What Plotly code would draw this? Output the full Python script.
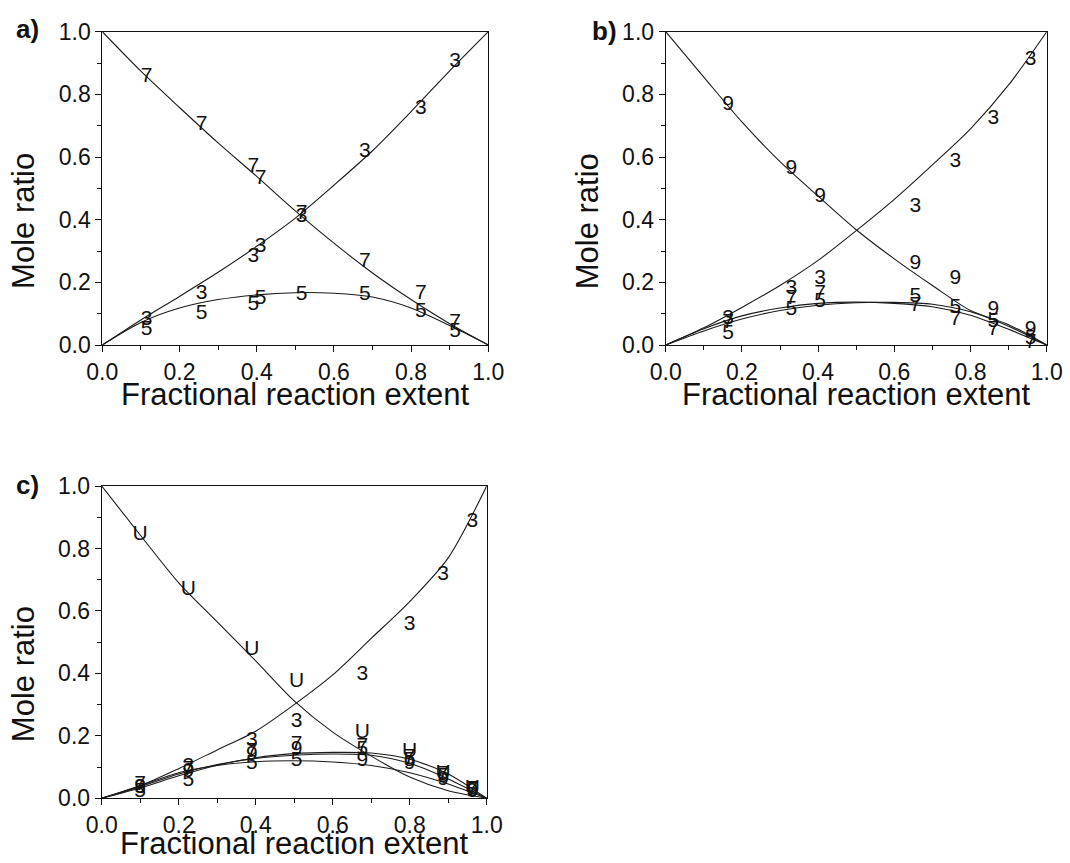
import plotly.graph_objects as go

FONT = "Arial, 'Liberation Sans', sans-serif"

# ---------------- data ----------------
grid_x = [0.0, 0.1, 0.2, 0.3, 0.4, 0.5, 0.6, 0.7, 0.8, 0.9, 1.0]

# panel a curves
a_curve_3 = [0.0, 0.08, 0.155, 0.232, 0.315, 0.405, 0.51, 0.62, 0.745, 0.875, 1.0]
a_curve_5 = [0.0, 0.072, 0.118, 0.145, 0.16, 0.167, 0.165, 0.153, 0.118, 0.062, 0.0]
a_curve_7 = [1.0, 0.874, 0.758, 0.645, 0.538, 0.428, 0.325, 0.23, 0.145, 0.068, 0.0]
# panel a points
a_pts_x = [0.115, 0.257, 0.391, 0.41, 0.516, 0.68, 0.825, 0.914]
a_pts_7 = [0.856, 0.702, 0.569, 0.532, 0.42, 0.266, 0.165, 0.072]
a_pts_3 = [0.08, 0.165, 0.282, 0.314, 0.41, 0.617, 0.755, 0.905]
a_pts_5 = [0.05, 0.10, 0.13, 0.149, 0.16, 0.16, 0.105, 0.042]

# panel b curves
b_curve_3 = [0.0, 0.055, 0.12, 0.19, 0.27, 0.365, 0.465, 0.575, 0.69, 0.83, 1.0]
b_curve_5 = [0.0, 0.045, 0.083, 0.11, 0.127, 0.135, 0.136, 0.13, 0.106, 0.06, 0.0]
b_curve_7 = [0.0, 0.052, 0.093, 0.118, 0.133, 0.137, 0.133, 0.122, 0.095, 0.05, 0.0]
b_curve_9 = [1.0, 0.855, 0.712, 0.585, 0.475, 0.368, 0.275, 0.19, 0.11, 0.065, 0.0]
# panel b points
b_pts_x = [0.164, 0.33, 0.405, 0.655, 0.76, 0.86, 0.958]
b_pts_9 = [0.766, 0.561, 0.473, 0.26, 0.21, 0.112, 0.048]
b_pts_3 = [0.085, 0.181, 0.21, 0.441, 0.585, 0.723, 0.912]
b_pts_7 = [0.07, 0.147, 0.163, 0.125, 0.082, 0.05, 0.008]
b_pts_5 = [0.037, 0.112, 0.138, 0.155, 0.12, 0.075, 0.02]

# panel c curves
c_curve_3 = [0.0, 0.04, 0.095, 0.155, 0.215, 0.3, 0.395, 0.512, 0.63, 0.77, 1.0]
c_curve_5 = [0.0, 0.033, 0.072, 0.106, 0.13, 0.143, 0.147, 0.145, 0.125, 0.078, 0.0]
c_curve_7 = [0.0, 0.037, 0.078, 0.108, 0.128, 0.138, 0.142, 0.138, 0.112, 0.062, 0.0]
c_curve_9 = [0.0, 0.04, 0.082, 0.105, 0.117, 0.12, 0.116, 0.105, 0.082, 0.046, 0.0]
c_curve_U = [1.0, 0.843, 0.69, 0.565, 0.44, 0.312, 0.212, 0.135, 0.068, 0.024, 0.0]
# panel c points
c_pts_x = [0.1, 0.225, 0.39, 0.506, 0.677, 0.80, 0.887, 0.963]
c_pts_U = [0.843, 0.667, 0.475, 0.373, 0.21, 0.15, 0.08, 0.03]
c_pts_3 = [0.035, 0.10, 0.185, 0.245, 0.395, 0.555, 0.715, 0.886]
c_pts_7 = [0.045, 0.09, 0.15, 0.17, 0.165, 0.13, 0.075, 0.028]
c_pts_9 = [0.035, 0.085, 0.14, 0.155, 0.12, 0.11, 0.06, 0.02]
c_pts_5 = [0.02, 0.055, 0.11, 0.12, 0.155, 0.12, 0.068, 0.025]

panel_labels = ["a)", "b)", "c)"]
x_title = "Fractional reaction extent"
y_title = "Mole ratio"
tick_vals = [0.0, 0.2, 0.4, 0.6, 0.8, 1.0]

# ---------------- figure ----------------
W, H = 1070, 863
fig = go.Figure()

panels = [
    ("x", "y", [(a_curve_3, "3"), (a_curve_5, "5"), (a_curve_7, "7")],
     a_pts_x, [(a_pts_7, "7"), (a_pts_3, "3"), (a_pts_5, "5")]),
    ("x2", "y2", [(b_curve_3, "3"), (b_curve_5, "5"), (b_curve_7, "7"), (b_curve_9, "9")],
     b_pts_x, [(b_pts_9, "9"), (b_pts_3, "3"), (b_pts_7, "7"), (b_pts_5, "5")]),
    ("x3", "y3", [(c_curve_3, "3"), (c_curve_5, "5"), (c_curve_7, "7"), (c_curve_9, "9"), (c_curve_U, "U")],
     c_pts_x, [(c_pts_U, "U"), (c_pts_3, "3"), (c_pts_7, "7"), (c_pts_9, "9"), (c_pts_5, "5")]),
]

for xa, ya, curves, px, pts in panels:
    for yv, name in curves:
        fig.add_trace(go.Scatter(
            x=grid_x, y=yv, mode="lines", name=name, xaxis=xa, yaxis=ya,
            line=dict(color="#1a1a1a", width=1.1, shape="spline", smoothing=0.8),
            showlegend=False, hoverinfo="skip"))
    for yv, name in pts:
        fig.add_trace(go.Scatter(
            x=px, y=yv, mode="text", text=[name] * len(px), name=name,
            xaxis=xa, yaxis=ya, textposition="middle center",
            textfont=dict(family=FONT, size=21, color="#111111"),
            showlegend=False, cliponaxis=False))

def px_dom_x(a, b):
    return [a / W, b / W]

def px_dom_y(top, bottom):
    return [1 - bottom / H, 1 - top / H]

domains = {
    "a": (px_dom_x(102.3, 488.3), px_dom_y(31.7, 345.0)),
    "b": (px_dom_x(665.7, 1046.7), px_dom_y(31.7, 345.0)),
    "c": (px_dom_x(101.7, 486.7), px_dom_y(486.0, 798.3)),
}

def axis_common():
    return dict(
        range=[0, 1], tickvals=tick_vals, tickformat=".1f",
        showline=True, linecolor="#111111", linewidth=1, mirror=True,
        ticks="outside", ticklen=6, tickwidth=1, tickcolor="#111111",
        minor=dict(ticks="outside", ticklen=4, tickwidth=1, tickcolor="#111111",
                   tickvals=[0.1, 0.3, 0.5, 0.7, 0.9]),
        showgrid=False, zeroline=False, automargin=False,
        tickfont=dict(family=FONT, size=23, color="#111111"),
        fixedrange=True,
    )

layout = dict(
    width=W, height=H, autosize=False,
    margin=dict(l=0, r=0, t=0, b=0, pad=0),
    paper_bgcolor="white", plot_bgcolor="white",
    showlegend=False,
)
for key, (xs, ys), xa, ya in [("a", domains["a"], "xaxis", "yaxis"),
                              ("b", domains["b"], "xaxis2", "yaxis2"),
                              ("c", domains["c"], "xaxis3", "yaxis3")]:
    ax = axis_common(); ax["domain"] = xs
    ay = axis_common(); ay["domain"] = ys
    suffix = xa[5:]
    ax["anchor"] = "y" + suffix
    ay["anchor"] = "x" + suffix
    layout[xa] = ax
    layout[ya] = ay

fig.update_layout(**layout)

ann = []
refs = [("x", "y"), ("x2", "y2"), ("x3", "y3")]
label_pos = [(27, 29), (604, 31), (27, 485)]
xtitle_y = [-0.157, -0.157, -0.146]
for i, (xr, yr) in enumerate(refs):
    ann.append(dict(text=x_title, xref=xr + " domain", yref=yr + " domain",
                    x=0.5, y=xtitle_y[i], xanchor="center", yanchor="middle",
                    showarrow=False, font=dict(family=FONT, size=31, color="#111111")))
    ann.append(dict(text=y_title, xref=xr + " domain", yref=yr + " domain",
                    x=-0.203, y=0.396, xanchor="center", yanchor="middle", textangle=-90,
                    showarrow=False, font=dict(family=FONT, size=31, color="#111111")))
    lx, ly = label_pos[i]
    ann.append(dict(text="<b>" + panel_labels[i] + "</b>", xref="paper", yref="paper",
                    x=lx / W, y=1 - ly / H, xanchor="center", yanchor="middle",
                    showarrow=False, font=dict(family=FONT, size=26, color="#111111")))
fig.update_layout(annotations=ann)

fig.write_html("out.html")
